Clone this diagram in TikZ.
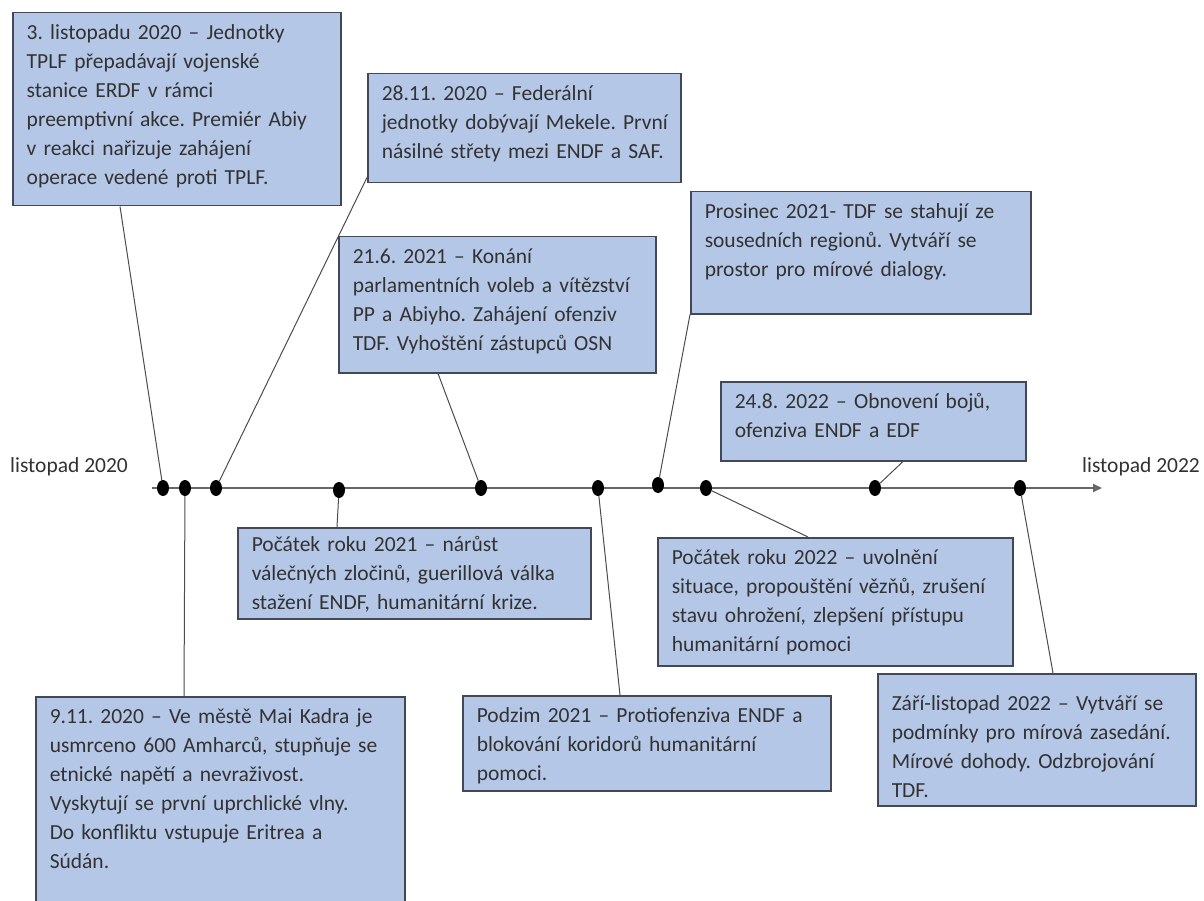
\documentclass[tikz,border=0pt]{standalone}
\usepackage{fontspec}
\setmainfont{Carlito}
\usetikzlibrary{arrows.meta,shapes.geometric}

\definecolor{boxfill}{RGB}{180,199,231}
\definecolor{boxdraw}{RGB}{64,72,90}
\definecolor{txtgray}{RGB}{50,50,50}

\begin{document}
\frenchspacing
\begin{tikzpicture}[
  x=1pt, y=-1pt,
  event/.style={rectangle, draw=boxdraw, line width=1.5pt, fill=boxfill, anchor=north west, align=left, inner xsep=14pt, inner ysep=8pt, text height=19pt, text=txtgray, font=\fontsize{21.5}{29}\selectfont},
  date/.style={text=txtgray, font=\fontsize{21.5}{29}\selectfont, anchor=west, inner sep=0pt},
  dot/.style={ellipse, fill=black, minimum width=12pt, minimum height=16pt, inner sep=0pt},
  line/.style={draw=black!70, line width=1pt},
  axis/.style={draw=black!60, line width=2pt, -{Triangle[length=9pt,width=8pt]}}
]
\useasboundingbox (0,0) rectangle (1204,901);

% time axis
\coordinate (start) at (152,488);
\coordinate (end) at (1102,488);
\draw[axis] (start) -- (end);
\node[date] (from) at (10,467) {listopad 2020};
\node[date] (to) at (1082,467) {listopad 2022};

% events above the axis
\node[event, text width=300pt, text depth=158pt] (evA) at (12,12) {3. listopadu 2020 – Jednotky\\ TPLF přepadávají vojenské\\ stanice ERDF v rámci\\ preemptivní akce. Premiér Abiy\\ v reakci nařizuje zahájení\\ operace vedené proti TPLF.};
\node[event, inner xsep=10pt, text width=293pt, text depth=74pt] (evB) at (367,73) {\hspace*{4pt}28.11. 2020 – Federální\\ \hspace*{4pt}jednotky dobývají Mekele. První\\ \hspace*{4pt}násilné střety mezi ENDF a SAF.};
\node[event, text width=289pt, text depth=101pt] (evC) at (338,236) {21.6. 2021 – Konání\\ parlamentních voleb a vítězství\\ PP a Abiyho. Zahájení ofenziv\\ TDF. Vyhoštění zástupců OSN};
\node[event, text width=312pt, text depth=87pt] (evD) at (690,191) {Prosinec 2021- TDF se stahují ze\\ sousedních regionů. Vytváří se\\ prostor pro mírové dialogy.};
\node[event, text width=277pt, text depth=44pt] (evE) at (720,381) {24.8. 2022 – Obnovení bojů,\\ ofenziva ENDF a EDF};

% events below the axis
\node[event, text width=325pt, text height=16pt, text depth=59pt] (evF) at (237,527) {Počátek roku 2021 – nárůst\\ válečných zločinů, guerillová válka\\ stažení ENDF, humanitární krize.};
\node[event, text width=327pt, text depth=93pt] (evG) at (657,537) {Počátek roku 2022 – uvolnění\\ situace, propouštění vězňů, zrušení\\ stavu ohrožení, zlepšení přístupu\\ humanitární pomoci};
\node[event, text width=341pt, text depth=175pt] (evH) at (35,696) {9.11. 2020 – Ve městě Mai Kadra je\\ usmrceno 600 Amharců, stupňuje se\\ etnické napětí a nevraživost.\\ Vyskytují se první uprchlické vlny.\\ Do konfliktu vstupuje Eritrea a\\ Súdán.};
\node[event, text width=340pt, text depth=60pt] (evI) at (462,695) {Podzim 2021 – Protiofenziva ENDF a\\ blokování koridorů humanitární\\ pomoci.};
\node[event, text width=290pt, text height=29pt, text depth=87pt] (evJ) at (877,673) {Září-listopad 2022 – Vytváří se\\ podmínky pro mírová zasedání.\\ Mírové dohody. Odzbrojování\\ TDF.};

% points on the axis
\node[dot] (d1) at (163,488) {};
\node[dot] (d2) at (185,488) {};
\node[dot] (d3) at (216,488) {};
\node[dot] (d4) at (339,490) {};
\node[dot] (d5) at (481,488) {};
\node[dot] (d6) at (598,488) {};
\node[dot] (d7) at (658,485) {};
\node[dot] (d8) at (706,488) {};
\node[dot] (d9) at (875,488) {};
\node[dot] (d10) at (1020,488) {};

\draw[line] (d1) -- ([xshift=108pt]evA.south west);
\draw[line] (d2) -- ([xshift=149pt]evH.north west);
\draw[line] (d3) -- ([yshift=6pt]evB.south west);
\draw[line] (d4) -- ([xshift=100pt]evF.north west);
\draw[line] (d5) -- ([xshift=100pt]evC.south west);
\draw[line] (d6) -- ([xshift=158pt]evI.north west);
\draw[line] (d7) -- (evD.south west);
\draw[line] (d8) -- ([xshift=151pt]evG.north west);
\draw[line] (d9) -- ([xshift=183pt]evE.south west);
\draw[line] (d10) -- ([xshift=176pt]evJ.north west);
\end{tikzpicture}
\end{document}
